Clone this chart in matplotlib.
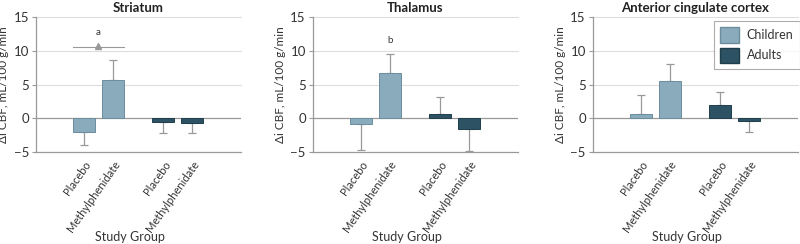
import numpy as np
import matplotlib
matplotlib.use('Agg')
import matplotlib.pyplot as plt
from matplotlib.patches import Patch

plt.rcParams['font.family'] = ['Lato', 'DejaVu Sans']

regions = ['Striatum', 'Thalamus', 'Anterior cingulate cortex']
groups = ['Placebo', 'Methylphenidate', 'Placebo', 'Methylphenidate']
ages = ['Children', 'Children', 'Adults', 'Adults']

# mean change in CBF per region (child placebo, child MPH, adult placebo, adult MPH)
striatum_mean = [-2.1, 5.7, -0.55, -0.75]
striatum_err = [1.9, 2.9, 1.65, 1.45]
thalamus_mean = [-0.9, 6.7, 0.6, -1.6]
thalamus_err = [3.8, 2.9, 2.5, 3.2]
acc_mean = [0.6, 5.5, 1.95, -0.35]
acc_err = [2.8, 2.6, 1.9, 1.65]

means = [striatum_mean, thalamus_mean, acc_mean]
errs = [striatum_err, thalamus_err, acc_err]

xpos = [0, 1, 2.75, 3.75]
child_col = '#8aabbc'
child_edge = '#6b8e9f'
adult_col = '#2c5263'
adult_edge = '#1f3e4b'
grey = '#999999'
txt = '#333333'

fig = plt.figure(figsize=(8, 2.44), dpi=100)
lefts = [0.045, 0.391, 0.741]

for i, reg in enumerate(regions):
    ax = fig.add_axes([lefts[i], 0.377, 0.256, 0.553])
    m = np.array(means[i])
    e = np.array(errs[i])
    lower = np.where(m < 0, e, 0)
    upper = np.where(m >= 0, e, 0)
    cols = [child_col if a == 'Children' else adult_col for a in ages]
    edges = [child_edge if a == 'Children' else adult_edge for a in ages]
    for yv in [5, 10, 15]:
        ax.axhline(yv, color='#dddddd', lw=0.8, zorder=0, clip_on=False)
    ax.axhline(0, color=grey, lw=0.9, zorder=1)
    ax.bar(xpos, m, width=0.76, color=cols, edgecolor=edges, lw=0.7, zorder=3)
    ax.errorbar(xpos, m, yerr=[lower, upper], fmt='none', ecolor=grey,
                elinewidth=0.9, capsize=2.9, capthick=0.9, zorder=2, clip_on=False)
    ax.set_xlim(-1.65, 5.42)
    ax.set_ylim(-5, 15)
    ax.set_yticks([-5, 0, 5, 10, 15])
    ax.set_xticks(xpos)
    ax.set_xticklabels(groups, rotation=55, ha='right', rotation_mode='anchor',
                       fontsize=8, color=txt)
    ax.tick_params(axis='x', length=0, pad=5)
    ax.tick_params(axis='y', length=3, color=grey, labelsize=9.5, labelcolor=txt, pad=2)
    for s in ['top', 'right']:
        ax.spines[s].set_visible(False)
    ax.spines['left'].set_color(grey)
    ax.spines['bottom'].set_color(grey)
    ax.spines['left'].set_linewidth(0.9)
    ax.spines['bottom'].set_linewidth(0.9)
    ax.set_ylabel('\u0394i CBF, mL/100 g/min', fontsize=8.5, color=txt, labelpad=3)
    ax.set_xlabel('Study Group', fontsize=9, color=txt)
    ax.xaxis.set_label_coords(0.46, -0.585)
    ax.set_title(reg, fontsize=9.5, fontweight='bold', color='#222222', pad=4)

    if i == 0:
        ax.plot([xpos[0] - 0.38, xpos[1] + 0.38], [10.6, 10.6], color=grey, lw=0.8, zorder=2)
        ax.plot([0.5], [10.75], marker='^', color=grey, ms=4, zorder=3)
        ax.text(0.5, 12.0, 'a', ha='center', va='bottom', fontsize=7, color=txt)
    if i == 1:
        ax.text(1, 10.9, 'b', ha='center', va='bottom', fontsize=7, color=txt)
    if i == 2:
        handles = [Patch(facecolor=child_col, edgecolor=child_edge),
                   Patch(facecolor=adult_col, edgecolor=adult_edge)]
        leg = ax.legend(handles, ['Children', 'Adults'], loc='upper right',
                        bbox_to_anchor=(1.01, 0.97), fontsize=9, frameon=True,
                        fancybox=False, edgecolor=grey, handlelength=1.5,
                        handleheight=1.5, borderpad=0.5, labelspacing=0.4,
                        handletextpad=0.6, borderaxespad=0)
        leg.get_frame().set_linewidth(0.8)
        for t in leg.get_texts():
            t.set_color(txt)

fig.savefig('out.png', dpi=100)
